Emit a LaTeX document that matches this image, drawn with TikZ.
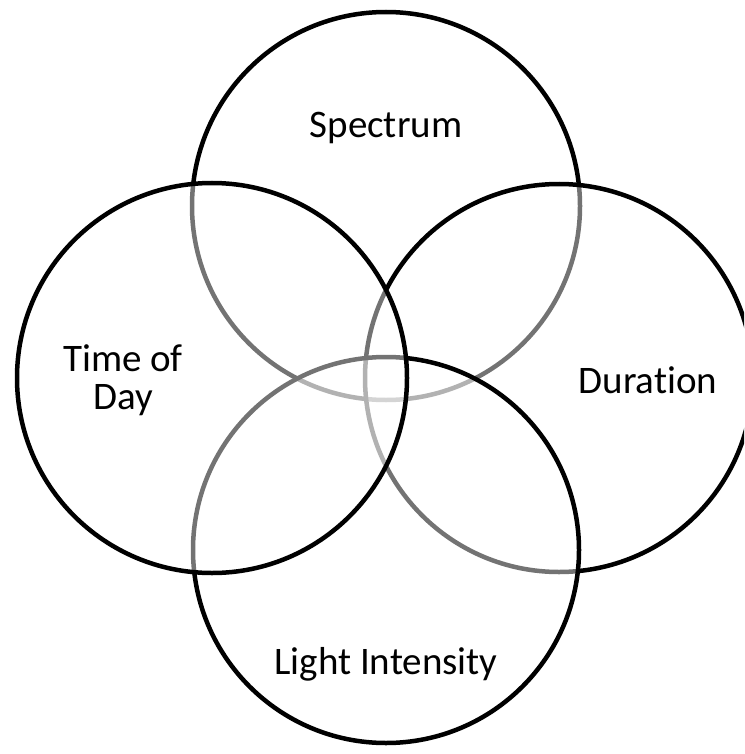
\documentclass[tikz,border=0pt]{standalone}
\usepackage{fontspec}
\setmainfont{Carlito}[Ligatures={NoCommon}]
\tikzset{
  ring/.style={draw=black, line width=4.5pt, fill=white, fill opacity=0.45, draw opacity=1},
  lbl/.style={font=\fontsize{39}{38}\selectfont, text=black, align=center, inner sep=0pt}
}
\begin{document}
\begin{tikzpicture}[x=1pt,y=-1pt]
\useasboundingbox (0,0) rectangle (744,754);
\begin{scope}
\clip (0,0) rectangle (744,754);
\path[ring] (386,206) circle[radius=194];
\path[ring] (559,378) circle[radius=194];
\path[ring] (386,550) circle[radius=193];
\path[ring] (212,378) circle[radius=195];
\end{scope}
\node[lbl] (spec) at (386,128) {Spectrum};
\node[lbl] (time) at (123,380) {Time of\\Day};
\node[lbl] (dur) at (648,380) {Duration};
\node[lbl] (light) at (386,664) {Light Intensity};
\end{tikzpicture}
\end{document}
